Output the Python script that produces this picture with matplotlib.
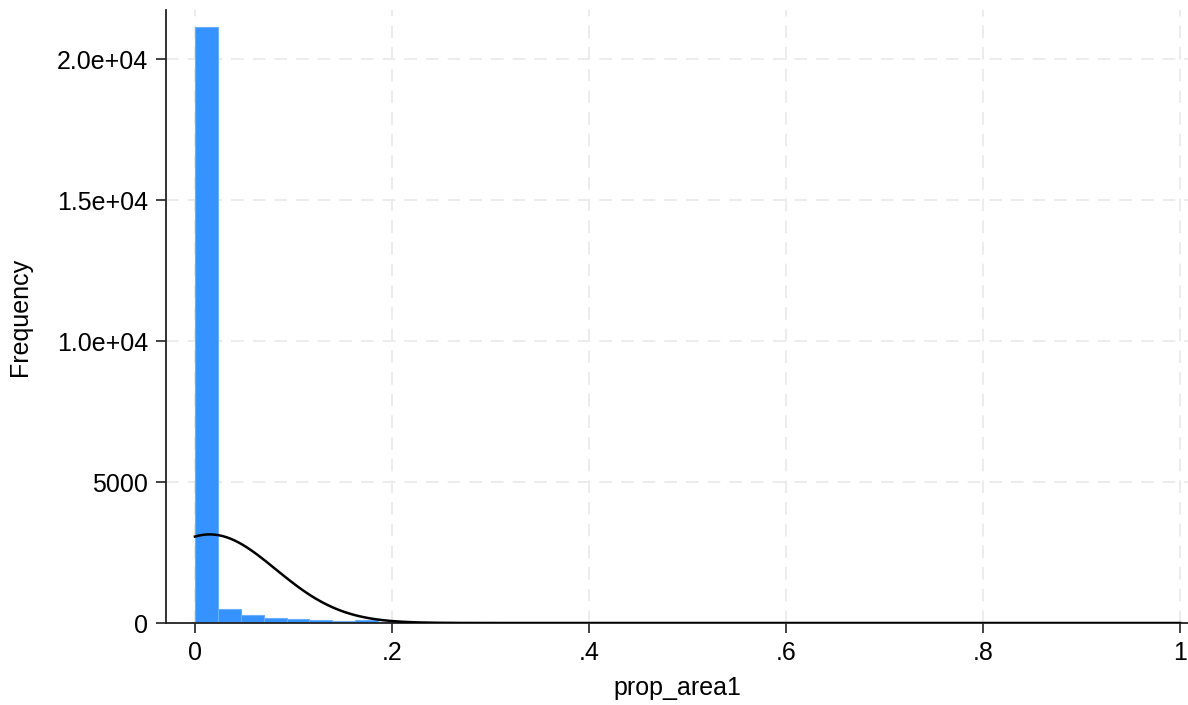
import numpy as np
import matplotlib.pyplot as plt

plt.rcParams['font.family'] = ['Liberation Sans', 'DejaVu Sans']

# histogram of prop_area1: 43 bins on [0, 1]
bin_lo = 0.0
bin_hi = 1.0
n_bins = 43
counts = [21150, 480, 300, 170, 125, 110, 78, 100, 45, 30,
          22, 12, 15, 8, 6, 5, 12, 4, 3, 3,
          2, 10, 2, 1, 1, 0, 0, 1, 0, 0,
          0, 0, 0, 0, 0, 0, 0, 0, 0, 0,
          0, 0, 1]

# normal overlay parameters
norm_mean = 0.015
norm_sd = 0.067

xticks = [0, 0.2, 0.4, 0.6, 0.8, 1.0]
xticklabels = ['0', '.2', '.4', '.6', '.8', '1']
yticks = [0, 5000, 10000, 15000, 20000]
yticklabels = ['0', '5000', '1.0e+04', '1.5e+04', '2.0e+04']

edges = np.linspace(bin_lo, bin_hi, n_bins + 1)
width = edges[1] - edges[0]

fig = plt.figure(figsize=(11.88, 7.05), dpi=100)
ax = fig.add_axes([0.1397, 0.1163, 0.8603, 0.8695])

ax.bar(edges[:-1], counts, width=width, align='edge',
       color='#3592ff', edgecolor='#6aaeff', linewidth=0.8, zorder=2)

xs = np.linspace(bin_lo, bin_hi, 500)
scale = sum(counts) * width
ys = scale / (norm_sd * np.sqrt(2 * np.pi)) * np.exp(-0.5 * ((xs - norm_mean) / norm_sd) ** 2)
ax.plot(xs, ys, color='black', linewidth=1.8, zorder=3)

ax.set_xlim(-0.0294, 1.008)
ax.set_ylim(0, 21740)
ax.set_xticks(xticks)
ax.set_xticklabels(xticklabels)
ax.set_yticks(yticks)
ax.set_yticklabels(yticklabels)
ax.tick_params(labelsize=18, length=7, width=1.2, color='#222222', pad=6)

ax.grid(True, color='#ebebeb', linestyle=(0, (7, 5)), linewidth=1.3, zorder=0)
ax.set_axisbelow(True)

for side in ['top', 'right']:
    ax.spines[side].set_visible(False)
for side in ['left', 'bottom']:
    ax.spines[side].set_linewidth(1.3)
    ax.spines[side].set_color('#222222')

ax.set_xlabel('prop_area1', fontsize=18, labelpad=8)
ax.set_ylabel('Frequency', fontsize=18, labelpad=18)

fig.savefig('out.png', dpi=100)
plt.close(fig)
